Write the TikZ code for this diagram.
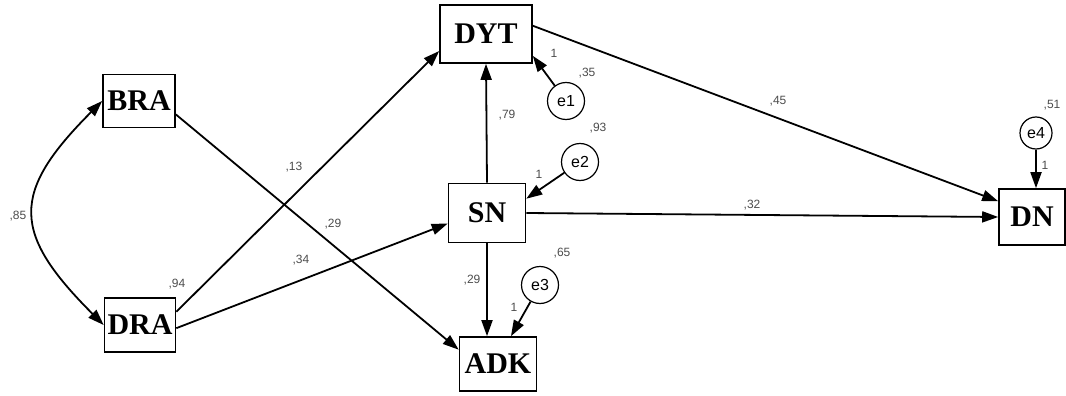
\documentclass[tikz,border=0pt]{standalone}
\usepackage{fontspec}
\setmainfont{Liberation Serif}
\newfontfamily\lblfont{Liberation Sans}
\usetikzlibrary{arrows.meta}
\begin{document}
\begin{tikzpicture}[x=1pt,y=-1pt,
  box/.style={draw, line width=1.6pt, inner sep=0pt, font=\fontsize{30}{32}\selectfont\bfseries},
  err/.style={draw, circle, line width=1.2pt, minimum size=37pt, inner sep=0pt, font=\lblfont\fontsize{16}{18}\selectfont},
  arr/.style={line width=1.8pt, -{Triangle[length=16pt,width=11pt]}},
  num/.style={font=\lblfont\fontsize{12}{13}\selectfont, text=black!70, inner sep=0pt}]
\useasboundingbox (0,0) rectangle (1066,396);
% boxes
\node[box, minimum width=72pt, minimum height=53pt] (BRA) at (139,101) {BRA};
\node[box, minimum width=71pt, minimum height=54pt] (DRA) at (140,325) {DRA};
\node[box, minimum width=92pt, minimum height=58pt] (DYT) at (486,34) {DYT};
\node[box, minimum width=77pt, minimum height=59pt] (SN) at (487,213) {SN};
\node[box, minimum width=77pt, minimum height=54pt] (ADK) at (498,364) {ADK};
\node[box, minimum width=66pt, minimum height=56pt] (DN) at (1032,217) {DN};
% errors
\node[err] (e1) at (566,101) {e1};
\node[err] (e2) at (580,162) {e2};
\node[err] (e3) at (540,285) {e3};
\node[err, minimum size=32pt] (e4) at (1036,133) {e4};
% correlation
\draw[line width=1.8pt, {Triangle[length=16pt,width=11pt]}-{Triangle[length=16pt,width=11pt]}]
  (BRA.west) .. controls +(-92,92) and +(-92,-92) .. (DRA.west);
% paths
\draw[arr] (DRA.20) -- (DYT.200);
\draw[arr] (DRA.-5) -- (SN.195);
\draw[arr] (BRA.-20) -- (ADK.160);
\draw[arr] (SN.north) -- (DYT.south);
\draw[arr] (SN.south) -- (SN.south |- ADK.north);
\draw[arr] (DYT.10) -- (DN.155);
\draw[arr] (SN.east) -- (DN.west);
\draw[arr] (e1) -- (DYT.-25);
\draw[arr] (e2) -- (SN.20);
\draw[arr] (e3) -- (ADK.65);
\draw[arr] (e4.south) -- (e4.south |- DN.north);
% labels
\node[num] (l85) at (18,216) {,85};
\node[num] (l94) at (177,284) {,94};
\node[num] (l13) at (294,167) {,13};
\node[num] (l29a) at (333,224) {,29};
\node[num] (l34) at (301,260) {,34};
\node[num] (l45) at (778,101) {,45};
\node[num] (l32) at (752,205) {,32};
\node[num] (l79) at (507,115) {,79};
\node[num] (l35) at (587,73) {,35};
\node[num] (o1) at (554,53) {1};
\node[num] (l93) at (598,128) {,93};
\node[num] (o2) at (539,174) {1};
\node[num] (l29b) at (472,280) {,29};
\node[num] (l65) at (562,253) {,65};
\node[num] (o3) at (514,307) {1};
\node[num] (l51) at (1052,105) {,51};
\node[num] (o4) at (1045,165) {1};
\end{tikzpicture}
\end{document}
